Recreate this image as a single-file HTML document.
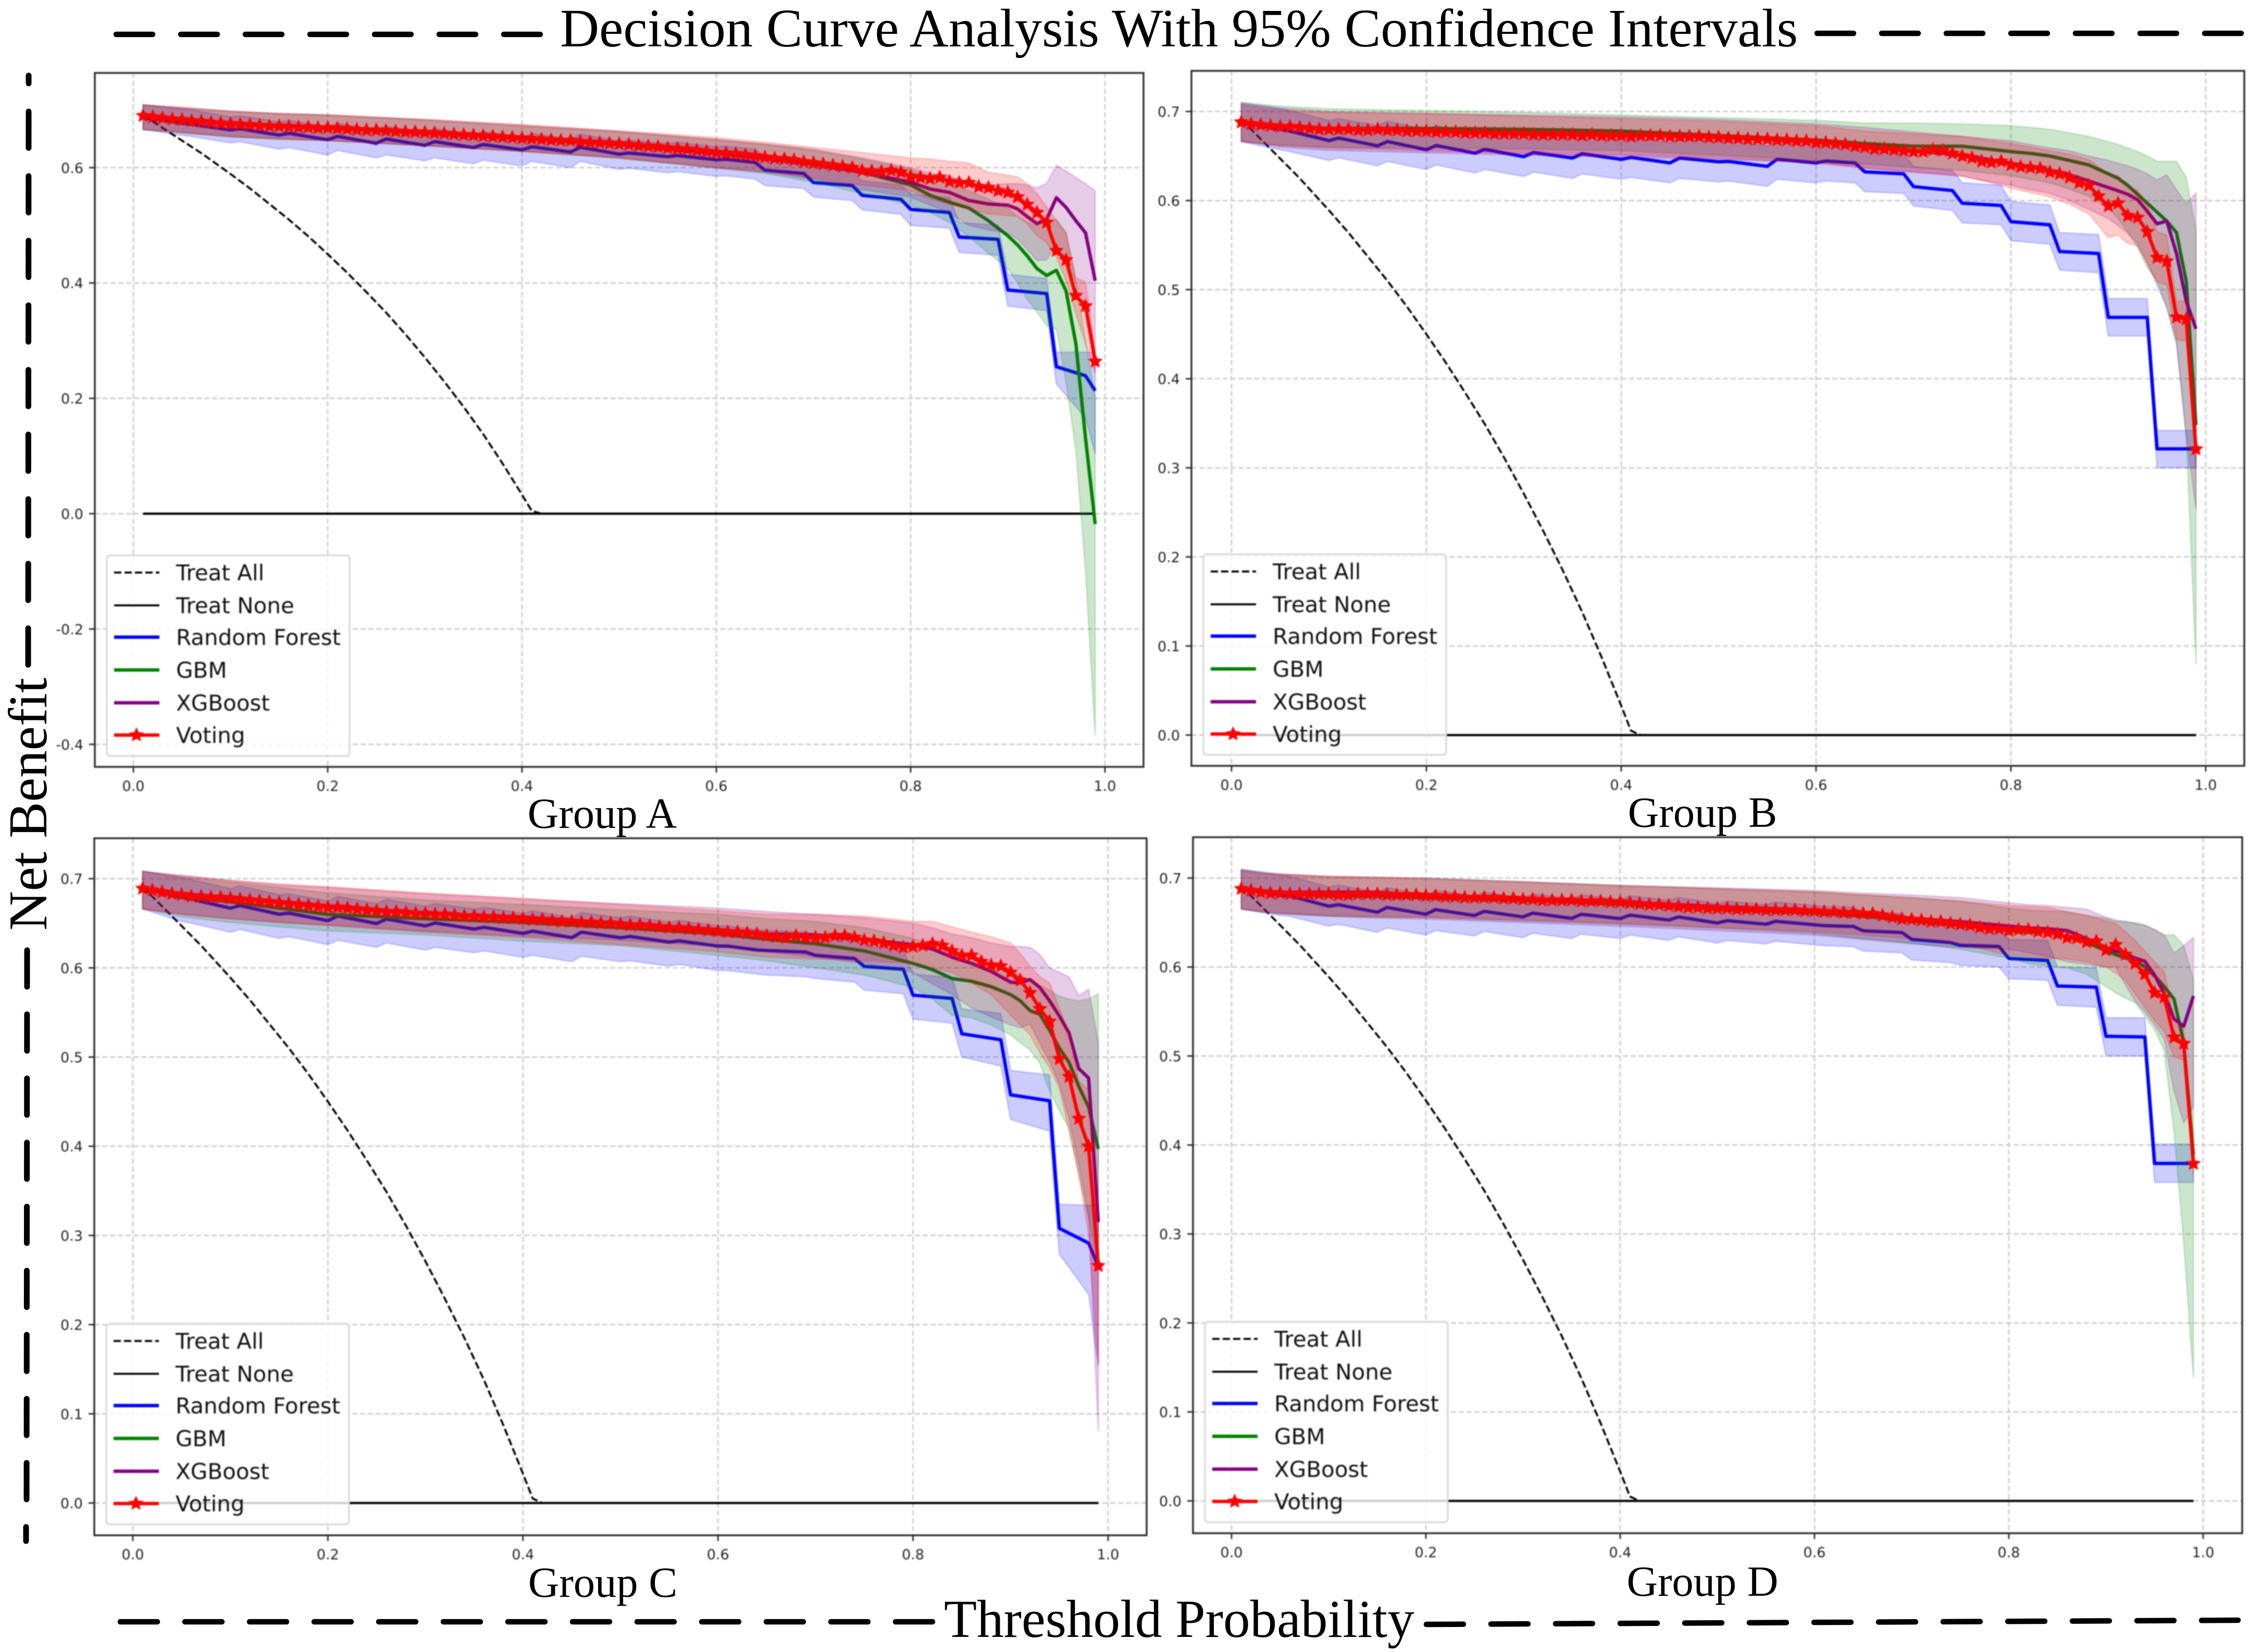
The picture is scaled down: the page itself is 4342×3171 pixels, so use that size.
<!DOCTYPE html>
<html lang="en">
<head>
<meta charset="utf-8">
<title>Decision Curve Analysis With 95% Confidence Intervals</title>
<style>
html,body{margin:0;padding:0;background:#fff;}
svg{display:block;}
.serif{font-family:"Liberation Serif","DejaVu Serif",serif;fill:#000;}
#panels{filter:blur(1px);}
</style>
</head>
<body>
<svg id="chart" xmlns="http://www.w3.org/2000/svg" width="4342" height="3171" viewBox="0 0 4342 3171">
<rect x="0" y="0" width="4342" height="3171" fill="#fff"/>
<g id="panels"></g>
<text class="serif" x="1075" y="89" font-size="104.1">Decision Curve Analysis With 95% Confidence Intervals</text>
<line x1="223" y1="66" x2="1037" y2="66" stroke="#000" stroke-width="10.5" stroke-linecap="round" stroke-dasharray="70 54"/>
<line x1="3488" y1="64" x2="4302" y2="64" stroke="#000" stroke-width="10.5" stroke-linecap="round" stroke-dasharray="70 54"/>
<text class="serif" transform="translate(89,1786) rotate(-90)" font-size="104.6">Net Benefit</text>
<line x1="55" y1="145" x2="55" y2="160" stroke="#000" stroke-width="11" stroke-linecap="round"/>
<line x1="55" y1="214" x2="54" y2="1276" stroke="#000" stroke-width="11" stroke-linecap="round" stroke-dasharray="70 54"/>
<line x1="52" y1="1824" x2="51" y2="2878" stroke="#000" stroke-width="11" stroke-linecap="round" stroke-dasharray="70 53"/>
<line x1="50" y1="2931" x2="50" y2="2958" stroke="#000" stroke-width="11" stroke-linecap="round"/>
<text class="serif" x="1812" y="3142" font-size="103.2">Threshold Probability</text>
<line x1="231" y1="3113" x2="1790" y2="3113" stroke="#000" stroke-width="10.5" stroke-linecap="round" stroke-dasharray="71 53"/>
<line x1="2738" y1="3118" x2="4296" y2="3110" stroke="#000" stroke-width="10.5" stroke-linecap="round" stroke-dasharray="71 53"/>
<text class="serif" x="1156" y="1589" font-size="82.5" text-anchor="middle">Group A</text>
<text class="serif" x="3268" y="1587" font-size="82.5" text-anchor="middle">Group B</text>
<text class="serif" x="1157" y="3065" font-size="82.5" text-anchor="middle">Group C</text>
<text class="serif" x="3268" y="3063" font-size="82.5" text-anchor="middle">Group D</text>
</svg>
<script>
// ---- shared axes data ----
const xTickValues = [0, 0.2, 0.4, 0.6, 0.8, 1.0];
const xTickLabels = ['0.0', '0.2', '0.4', '0.6', '0.8', '1.0'];
const yTickValuesA = [-0.4, -0.2, 0, 0.2, 0.4, 0.6];
const yTickLabelsA = ['-0.4', '-0.2', '0.0', '0.2', '0.4', '0.6'];
const yTickValuesOther = [0, 0.1, 0.2, 0.3, 0.4, 0.5, 0.6, 0.7];
const yTickLabelsOther = ['0.0', '0.1', '0.2', '0.3', '0.4', '0.5', '0.6', '0.7'];
const legendLabels = ['Treat All', 'Treat None', 'Random Forest', 'GBM', 'XGBoost', 'Voting'];

// ---- reference strategies ----
const treatAllT = [0.01,0.02,0.03,0.04,0.05,0.06,0.07,0.08,0.09,0.10,0.12,0.14,0.16,0.18,0.20,0.22,0.24,0.26,0.28,0.30,0.32,0.34,0.36,0.38,0.40,0.41,0.42,0.99];
const treatAll = [0.690,0.680,0.669,0.658,0.647,0.636,0.625,0.613,0.601,0.589,0.564,0.537,0.510,0.481,0.450,0.418,0.384,0.349,0.311,0.271,0.229,0.185,0.138,0.087,0.033,0.005,0,0];
const treatNoneT = [0.01, 0.99];
const treatNone = [0, 0];

// ---- threshold grids ----
const rfT = [0.01,0.05,0.06,0.10,0.11,0.15,0.16,0.20,0.21,0.25,0.26,0.30,0.31,0.35,0.36,0.40,0.41,0.45,0.46,0.50,0.51,0.55,0.56,0.60,0.61,0.64,0.65,0.69,0.70,0.74,0.75,0.79,0.80,0.84,0.85,0.89,0.90,0.94,0.95,0.98,0.99];
const modelT = [0.01,0.03,0.05,0.10,0.15,0.20,0.30,0.40,0.50,0.60,0.65,0.70,0.75,0.80,0.82,0.84,0.86,0.88,0.90,0.91,0.92,0.93,0.94,0.95,0.96,0.97,0.98,0.99];
const voteT = [0.01,0.02,0.03,0.04,0.05,0.06,0.07,0.08,0.09,0.10,0.11,0.12,0.13,0.14,0.15,0.16,0.17,0.18,0.19,0.20,0.21,0.22,0.23,0.24,0.25,0.26,0.27,0.28,0.29,0.30,0.31,0.32,0.33,0.34,0.35,0.36,0.37,0.38,0.39,0.40,0.41,0.42,0.43,0.44,0.45,0.46,0.47,0.48,0.49,0.50,0.51,0.52,0.53,0.54,0.55,0.56,0.57,0.58,0.59,0.60,0.61,0.62,0.63,0.64,0.65,0.66,0.67,0.68,0.69,0.70,0.71,0.72,0.73,0.74,0.75,0.76,0.77,0.78,0.79,0.80,0.81,0.82,0.83,0.84,0.85,0.86,0.87,0.88,0.89,0.90,0.91,0.92,0.93,0.94,0.95,0.96,0.97,0.98,0.99];

// ---- Group A ----
const rfA = [0.689,0.677,0.675,0.6655,0.6674,0.6564,0.6595,0.6483,0.6543,0.6423,0.6498,0.6387,0.6453,0.6348,0.6402,0.6308,0.6362,0.6272,0.6354,0.6233,0.6255,0.6191,0.621,0.6136,0.6145,0.6091,0.5956,0.590,0.5742,0.569,0.552,0.5452,0.5276,0.5222,0.4797,0.4757,0.3878,0.3817,0.2548,0.2392,0.2132];
const rfLoA = [0.666,0.656,0.654,0.643,0.645,0.632,0.635,0.622,0.630,0.617,0.622,0.612,0.617,0.607,0.613,0.603,0.611,0.600,0.611,0.597,0.599,0.591,0.593,0.585,0.586,0.580,0.569,0.564,0.549,0.543,0.527,0.519,0.500,0.495,0.453,0.448,0.360,0.352,0.225,0.166,0.104];
const rfHiA = [0.709,0.702,0.700,0.688,0.690,0.679,0.682,0.671,0.677,0.665,0.672,0.661,0.668,0.657,0.663,0.653,0.659,0.650,0.658,0.646,0.648,0.642,0.644,0.636,0.637,0.632,0.620,0.614,0.600,0.594,0.577,0.570,0.554,0.548,0.505,0.500,0.415,0.408,0.280,0.280,0.280];
const gbmA = [0.690,0.685,0.682,0.675,0.671,0.668,0.660,0.650,0.640,0.625,0.616,0.606,0.592,0.570,0.552,0.540,0.530,0.508,0.482,0.466,0.447,0.425,0.413,0.422,0.386,0.295,0.131,-0.018];
const gbmLoA = [0.666,0.663,0.660,0.653,0.649,0.647,0.638,0.628,0.616,0.599,0.590,0.575,0.555,0.535,0.522,0.505,0.480,0.452,0.425,0.400,0.372,0.350,0.326,0.320,0.228,0.110,-0.10,-0.385];
const gbmHiA = [0.709,0.705,0.702,0.697,0.693,0.691,0.682,0.672,0.662,0.648,0.640,0.630,0.615,0.597,0.585,0.570,0.560,0.545,0.530,0.515,0.505,0.500,0.505,0.5105,0.487,0.404,0.300,0.200];
const xgbA = [0.690,0.686,0.683,0.676,0.672,0.669,0.660,0.651,0.641,0.625,0.617,0.607,0.592,0.575,0.563,0.557,0.543,0.537,0.535,0.5285,0.515,0.503,0.5105,0.548,0.531,0.508,0.487,0.404];
const xgbLoA = [0.666,0.664,0.661,0.654,0.650,0.647,0.638,0.629,0.617,0.600,0.592,0.580,0.562,0.549,0.535,0.522,0.500,0.492,0.487,0.476,0.458,0.439,0.440,0.465,0.437,0.400,0.360,0.250];
const xgbHiA = [0.709,0.706,0.704,0.698,0.694,0.691,0.683,0.673,0.663,0.649,0.641,0.632,0.617,0.600,0.590,0.585,0.575,0.570,0.572,0.572,0.570,0.565,0.573,0.604,0.594,0.583,0.572,0.560];
const voteA = [0.690,0.688,0.686,0.684,0.683,0.681,0.680,0.678,0.677,0.676,0.675,0.674,0.673,0.672,0.672,0.671,0.670,0.670,0.669,0.669,0.668,0.667,0.666,0.665,0.665,0.664,0.663,0.662,0.662,0.661,0.660,0.659,0.658,0.657,0.656,0.655,0.654,0.653,0.652,0.651,0.650,0.649,0.648,0.647,0.647,0.645,0.644,0.643,0.642,0.641,0.640,0.638,0.637,0.636,0.634,0.633,0.632,0.630,0.628,0.626,0.625,0.624,0.622,0.620,0.618,0.616,0.615,0.613,0.610,0.608,0.606,0.604,0.602,0.600,0.595,0.594,0.593,0.595,0.592,0.585,0.583,0.581,0.583,0.576,0.574,0.574,0.567,0.565,0.560,0.557,0.549,0.536,0.522,0.505,0.456,0.440,0.378,0.360,0.264];
const voteLoA = [0.666,0.664,0.661,0.654,0.650,0.647,0.638,0.628,0.617,0.600,0.594,0.582,0.570,0.560,0.546,0.537,0.528,0.520,0.517,0.516,0.503,0.482,0.470,0.445,0.404,0.347,0.295,0.243];
const voteHiA = [0.709,0.707,0.705,0.698,0.694,0.692,0.684,0.675,0.664,0.652,0.644,0.635,0.626,0.617,0.615,0.611,0.608,0.592,0.587,0.584,0.572,0.555,0.532,0.508,0.487,0.409,0.402,0.282];

// ---- Group B ----
const rfB = [0.688,0.680,0.678,0.6673,0.6702,0.6614,0.6663,0.6571,0.6618,0.6532,0.6575,0.6493,0.654,0.6478,0.6526,0.6462,0.6485,0.6423,0.6478,0.6435,0.644,0.6384,0.6464,0.6423,0.6444,0.6423,0.6322,0.630,0.6157,0.6112,0.597,0.5945,0.5763,0.5728,0.5428,0.5406,0.4689,0.4689,0.3213,0.3213,0.3213];
const rfLoB = [0.666,0.657,0.655,0.645,0.648,0.639,0.644,0.635,0.640,0.631,0.635,0.627,0.632,0.625,0.630,0.624,0.626,0.620,0.625,0.621,0.622,0.616,0.624,0.620,0.622,0.620,0.610,0.608,0.594,0.589,0.575,0.573,0.555,0.551,0.522,0.519,0.448,0.448,0.300,0.300,0.300];
const rfHiB = [0.710,0.703,0.701,0.690,0.692,0.684,0.689,0.680,0.684,0.676,0.680,0.672,0.677,0.670,0.675,0.669,0.671,0.665,0.670,0.666,0.667,0.661,0.669,0.665,0.667,0.665,0.655,0.653,0.638,0.634,0.620,0.617,0.599,0.595,0.564,0.562,0.490,0.490,0.342,0.342,0.342];
const gbmB = [0.688,0.686,0.684,0.681,0.681,0.681,0.680,0.678,0.673,0.668,0.664,0.661,0.661,0.655,0.653,0.650,0.645,0.640,0.630,0.625,0.617,0.607,0.597,0.587,0.577,0.564,0.509,0.348];
const gbmLoB = [0.666,0.664,0.662,0.660,0.659,0.659,0.658,0.656,0.651,0.645,0.641,0.637,0.634,0.628,0.624,0.620,0.613,0.605,0.592,0.580,0.565,0.547,0.525,0.510,0.480,0.440,0.335,0.080];
const gbmHiB = [0.710,0.708,0.706,0.703,0.702,0.701,0.699,0.696,0.693,0.690,0.687,0.687,0.686,0.684,0.682,0.680,0.676,0.672,0.666,0.663,0.659,0.655,0.650,0.644,0.644,0.644,0.626,0.567];
const xgbB = [0.688,0.686,0.684,0.680,0.679,0.678,0.676,0.674,0.671,0.666,0.661,0.656,0.651,0.642,0.638,0.634,0.629,0.622,0.6146,0.611,0.607,0.601,0.588,0.574,0.577,0.5405,0.487,0.456];
const xgbLoB = [0.667,0.664,0.660,0.6565,0.655,0.6537,0.651,0.6486,0.646,0.643,0.637,0.632,0.627,0.617,0.612,0.608,0.600,0.590,0.580,0.572,0.563,0.552,0.530,0.505,0.480,0.440,0.335,0.254];
const xgbHiB = [0.708,0.706,0.704,0.700,0.699,0.698,0.696,0.694,0.691,0.686,0.682,0.677,0.672,0.667,0.663,0.659,0.656,0.650,0.645,0.642,0.639,0.635,0.630,0.623,0.629,0.612,0.5965,0.6085];
const voteB = [0.688,0.686,0.685,0.684,0.683,0.683,0.682,0.681,0.680,0.680,0.680,0.680,0.679,0.679,0.680,0.679,0.679,0.678,0.678,0.678,0.677,0.677,0.677,0.676,0.676,0.676,0.675,0.675,0.675,0.675,0.674,0.674,0.674,0.674,0.674,0.673,0.674,0.673,0.673,0.673,0.672,0.673,0.673,0.673,0.672,0.672,0.672,0.672,0.671,0.671,0.670,0.670,0.669,0.669,0.669,0.668,0.668,0.667,0.667,0.665,0.665,0.664,0.663,0.661,0.660,0.658,0.658,0.657,0.656,0.655,0.655,0.657,0.656,0.653,0.650,0.648,0.644,0.643,0.644,0.640,0.638,0.637,0.636,0.632,0.630,0.626,0.620,0.617,0.605,0.594,0.597,0.583,0.581,0.565,0.536,0.532,0.469,0.467,0.321];
const voteLoB = [0.666,0.664,0.662,0.659,0.658,0.656,0.653,0.651,0.648,0.642,0.636,0.632,0.628,0.614,0.609,0.604,0.596,0.585,0.5585,0.561,0.552,0.5495,0.530,0.509,0.505,0.444,0.442,0.300];
const voteHiB = [0.708,0.704,0.701,0.699,0.698,0.6975,0.695,0.692,0.689,0.684,0.678,0.675,0.672,0.664,0.660,0.656,0.652,0.646,0.630,0.628,0.615,0.612,0.595,0.565,0.561,0.487,0.487,0.345];

// ---- Group C ----
const rfC = [0.689,0.679,0.677,0.6669,0.6698,0.6601,0.6614,0.6529,0.6581,0.6497,0.6548,0.6470,0.6503,0.6435,0.6455,0.6386,0.6412,0.6338,0.6400,0.6338,0.6352,0.6289,0.6303,0.6244,0.6244,0.6200,0.6195,0.6177,0.6141,0.6105,0.6016,0.5985,0.5694,0.5658,0.5261,0.5194,0.4577,0.4510,0.3080,0.2914,0.2656];
const rfLoC = [0.666,0.652,0.650,0.640,0.643,0.633,0.635,0.626,0.631,0.623,0.628,0.620,0.623,0.617,0.619,0.612,0.614,0.607,0.613,0.607,0.608,0.602,0.604,0.597,0.597,0.593,0.592,0.590,0.588,0.584,0.575,0.571,0.5426,0.538,0.500,0.490,0.430,0.417,0.279,0.234,0.154];
const rfHiC = [0.709,0.701,0.699,0.689,0.692,0.682,0.683,0.675,0.680,0.672,0.677,0.669,0.672,0.666,0.668,0.661,0.664,0.656,0.662,0.656,0.658,0.651,0.653,0.647,0.647,0.643,0.642,0.640,0.637,0.633,0.625,0.621,0.593,0.589,0.554,0.549,0.485,0.480,0.335,0.334,0.334];
const gbmC = [0.689,0.684,0.680,0.674,0.667,0.660,0.655,0.651,0.645,0.638,0.632,0.627,0.619,0.605,0.598,0.588,0.585,0.579,0.570,0.563,0.552,0.548,0.530,0.510,0.494,0.467,0.444,0.397];
const gbmLoC = [0.666,0.662,0.657,0.651,0.646,0.6415,0.637,0.630,0.625,0.614,0.608,0.600,0.592,0.578,0.565,0.547,0.544,0.536,0.525,0.516,0.508,0.493,0.462,0.440,0.420,0.368,0.319,0.270];
const gbmHiC = [0.708,0.705,0.702,0.696,0.690,0.684,0.676,0.671,0.665,0.660,0.655,0.652,0.645,0.633,0.625,0.615,0.610,0.605,0.598,0.592,0.585,0.580,0.575,0.568,0.565,0.563,0.565,0.571];
const xgbC = [0.689,0.686,0.683,0.679,0.674,0.668,0.661,0.657,0.650,0.643,0.638,0.637,0.632,0.626,0.621,0.612,0.605,0.596,0.584,0.583,0.587,0.578,0.563,0.546,0.527,0.487,0.4765,0.315];
const xgbLoC = [0.666,0.663,0.660,0.655,0.651,0.648,0.641,0.6355,0.631,0.624,0.618,0.612,0.605,0.595,0.582,0.570,0.555,0.545,0.536,0.533,0.537,0.515,0.495,0.470,0.431,0.380,0.322,0.080];
const xgbHiC = [0.708,0.706,0.704,0.698,0.693,0.690,0.683,0.677,0.672,0.667,0.663,0.660,0.656,0.650,0.645,0.638,0.634,0.628,0.624,0.624,0.623,0.615,0.600,0.595,0.590,0.569,0.576,0.516];
const voteC = [0.689,0.687,0.685,0.683,0.682,0.680,0.680,0.679,0.679,0.678,0.677,0.676,0.675,0.674,0.673,0.672,0.671,0.670,0.669,0.668,0.668,0.667,0.666,0.665,0.664,0.663,0.663,0.662,0.661,0.661,0.660,0.660,0.659,0.658,0.658,0.657,0.657,0.656,0.656,0.655,0.654,0.654,0.653,0.652,0.652,0.651,0.651,0.650,0.650,0.649,0.648,0.648,0.647,0.646,0.645,0.645,0.644,0.643,0.642,0.641,0.640,0.640,0.639,0.638,0.636,0.635,0.634,0.636,0.634,0.634,0.634,0.636,0.636,0.634,0.631,0.630,0.628,0.625,0.623,0.624,0.625,0.627,0.625,0.619,0.614,0.614,0.607,0.603,0.602,0.595,0.586,0.572,0.554,0.540,0.498,0.478,0.431,0.400,0.266];
const voteLoC = [0.666,0.663,0.660,0.655,0.651,0.6475,0.640,0.634,0.626,0.618,0.612,0.610,0.608,0.6055,0.600,0.595,0.583,0.570,0.547,0.536,0.525,0.505,0.488,0.465,0.4175,0.368,0.301,0.155];
const voteHiC = [0.708,0.705,0.703,0.698,0.694,0.691,0.684,0.678,0.671,0.664,0.660,0.660,0.658,0.652,0.652,0.646,0.640,0.635,0.628,0.616,0.602,0.590,0.583,0.555,0.528,0.473,0.463,0.320];

// ---- Group D ----
const rfD = [0.688,0.681,0.680,0.6684,0.6700,0.6616,0.6670,0.6593,0.6645,0.6579,0.6626,0.6563,0.6606,0.6547,0.6593,0.6544,0.6583,0.6528,0.6563,0.6495,0.6521,0.6481,0.6514,0.6475,0.6465,0.6456,0.6407,0.6388,0.6311,0.6275,0.6244,0.6231,0.6096,0.6074,0.5787,0.5774,0.5222,0.5214,0.3793,0.3793,0.3793];
const rfLoD = [0.665,0.658,0.657,0.646,0.648,0.639,0.644,0.636,0.641,0.635,0.640,0.633,0.638,0.632,0.637,0.632,0.636,0.630,0.634,0.627,0.630,0.626,0.629,0.625,0.624,0.623,0.618,0.616,0.608,0.605,0.602,0.600,0.587,0.585,0.557,0.555,0.500,0.500,0.358,0.358,0.358];
const rfHiD = [0.710,0.703,0.702,0.690,0.692,0.684,0.689,0.681,0.686,0.680,0.684,0.678,0.682,0.677,0.681,0.676,0.680,0.675,0.678,0.671,0.674,0.670,0.673,0.669,0.668,0.667,0.662,0.660,0.653,0.649,0.646,0.645,0.631,0.630,0.600,0.599,0.543,0.543,0.401,0.401,0.401];
const gbmD = [0.688,0.685,0.683,0.680,0.680,0.678,0.675,0.671,0.665,0.661,0.657,0.652,0.647,0.641,0.639,0.640,0.634,0.628,0.618,0.614,0.610,0.608,0.600,0.590,0.578,0.564,0.515,0.389];
const gbmLoD = [0.665,0.662,0.660,0.657,0.656,0.656,0.652,0.6485,0.644,0.638,0.632,0.627,0.620,0.610,0.604,0.601,0.599,0.592,0.578,0.571,0.565,0.560,0.545,0.530,0.506,0.415,0.291,0.138];
const gbmHiD = [0.709,0.706,0.704,0.701,0.700,0.6996,0.696,0.6915,0.688,0.6846,0.681,0.678,0.674,0.666,0.664,0.663,0.662,0.658,0.655,0.6513,0.651,0.650,0.647,0.642,0.6356,0.6364,0.624,0.586];
const xgbD = [0.688,0.686,0.684,0.684,0.684,0.680,0.677,0.673,0.668,0.664,0.660,0.655,0.651,0.646,0.644,0.643,0.641,0.632,0.622,0.618,0.615,0.610,0.6065,0.591,0.570,0.5417,0.5335,0.5675];
const xgbLoD = [0.665,0.662,0.660,0.657,0.655,0.654,0.650,0.646,0.641,0.636,0.631,0.626,0.622,0.620,0.616,0.612,0.606,0.603,0.600,0.600,0.580,0.5616,0.550,0.535,0.519,0.461,0.425,0.443];
const xgbHiD = [0.709,0.707,0.705,0.702,0.701,0.700,0.696,0.692,0.689,0.686,0.683,0.681,0.678,0.672,0.670,0.669,0.667,0.665,0.656,0.653,0.651,0.649,0.647,0.642,0.636,0.6155,0.624,0.633];
const voteD = [0.688,0.686,0.684,0.683,0.683,0.682,0.682,0.682,0.682,0.682,0.681,0.681,0.682,0.682,0.682,0.681,0.681,0.681,0.681,0.680,0.680,0.679,0.679,0.678,0.678,0.678,0.678,0.677,0.677,0.676,0.676,0.675,0.675,0.675,0.675,0.674,0.674,0.674,0.673,0.673,0.672,0.671,0.670,0.670,0.669,0.668,0.667,0.667,0.666,0.666,0.666,0.665,0.665,0.665,0.664,0.664,0.664,0.664,0.663,0.663,0.662,0.662,0.661,0.661,0.660,0.660,0.658,0.656,0.654,0.6535,0.6526,0.651,0.651,0.649,0.648,0.647,0.6445,0.643,0.643,0.641,0.642,0.642,0.640,0.639,0.637,0.633,0.6325,0.628,0.629,0.619,0.625,0.614,0.604,0.592,0.571,0.566,0.521,0.514,0.379];
const voteLoD = [0.666,0.663,0.661,0.658,0.657,0.656,0.653,0.649,0.644,0.640,0.636,0.632,0.626,0.613,0.612,0.610,0.609,0.606,0.600,0.593,0.585,0.570,0.555,0.540,0.528,0.499,0.495,0.367];
const voteHiD = [0.708,0.705,0.704,0.702,0.701,0.699,0.695,0.691,0.688,0.684,0.681,0.678,0.674,0.669,0.668,0.667,0.662,0.658,0.652,0.649,0.640,0.630,0.618,0.606,0.595,0.544,0.530,0.392];

// ---- panel wiring ----
const panelSpecs = [
  {id:'a', left:182, right:2195, top:140, bottom:1472, x0:256, x1:2121, y0:986, k:1107, yv:yTickValuesA, yl:yTickLabelsA,
   rf:rfA, rfLo:rfLoA, rfHi:rfHiA, gbm:gbmA, gbmLo:gbmLoA, gbmHi:gbmHiA, xgb:xgbA, xgbLo:xgbLoA, xgbHi:xgbHiA, vote:voteA, voteLo:voteLoA, voteHi:voteHiA},
  {id:'b', left:2287, right:4308, top:136, bottom:1470, x0:2364, x1:4234, y0:1411, k:1710, yv:yTickValuesOther, yl:yTickLabelsOther,
   rf:rfB, rfLo:rfLoB, rfHi:rfHiB, gbm:gbmB, gbmLo:gbmLoB, gbmHi:gbmHiB, xgb:xgbB, xgbLo:xgbLoB, xgbHi:xgbHiB, vote:voteB, voteLo:voteLoB, voteHi:voteHiB},
  {id:'c', left:181, right:2201, top:1609, bottom:2947, x0:255, x1:2127, y0:2885, k:1712, yv:yTickValuesOther, yl:yTickLabelsOther,
   rf:rfC, rfLo:rfLoC, rfHi:rfHiC, gbm:gbmC, gbmLo:gbmLoC, gbmHi:gbmHiC, xgb:xgbC, xgbLo:xgbLoC, xgbHi:xgbHiC, vote:voteC, voteLo:voteLoC, voteHi:voteHiC},
  {id:'d', left:2290, right:4304, top:1607, bottom:2943, x0:2364, x1:4229, y0:2881, k:1708, yv:yTickValuesOther, yl:yTickLabelsOther,
   rf:rfD, rfLo:rfLoD, rfHi:rfHiD, gbm:gbmD, gbmLo:gbmLoD, gbmHi:gbmHiD, xgb:xgbD, xgbLo:xgbLoD, xgbHi:xgbHiD, vote:voteD, voteLo:voteLoD, voteHi:voteHiD}
];

const NS = 'http://www.w3.org/2000/svg';
const root = document.getElementById('panels');

function xScale(p, t) { return p.x0 + (p.x1 - p.x0) * t; }
function yScale(p, v) { return p.y0 - p.k * v; }

function linePoints(p, ts, vs) {
  return ts.map(function (t, i) { return xScale(p, t).toFixed(1) + ',' + yScale(p, vs[i]).toFixed(1); }).join(' ');
}
function bandPoints(p, ts, lo, hi) {
  const up = ts.map(function (t, i) { return xScale(p, t).toFixed(1) + ',' + yScale(p, hi[i]).toFixed(1); });
  const dn = ts.map(function (t, i) { return xScale(p, t).toFixed(1) + ',' + yScale(p, lo[i]).toFixed(1); }).reverse();
  return up.concat(dn).join(' ');
}
function starPoints(cx, cy, r) {
  const pts = [];
  for (let i = 0; i < 10; i++) {
    const rad = i % 2 === 0 ? r : r * 0.47;
    const a = -Math.PI / 2 + i * Math.PI / 5;
    pts.push((cx + rad * Math.cos(a)).toFixed(1) + ',' + (cy + rad * Math.sin(a)).toFixed(1));
  }
  return pts.join(' ');
}
function styleLine(el, color, width) {
  el.setAttribute('fill', 'none');
  el.setAttribute('stroke', color);
  el.setAttribute('stroke-width', width);
  el.setAttribute('stroke-linejoin', 'round');
}
function styleBand(el, color) {
  el.setAttribute('fill', color);
  el.setAttribute('fill-opacity', '0.2');
  el.setAttribute('stroke', color);
  el.setAttribute('stroke-opacity', '0.2');
  el.setAttribute('stroke-width', '2.5');
}

function drawPanel(p) {
  const g = document.createElementNS(NS, 'g');
  
  
  root.appendChild(g);

  // gridlines
  xTickValues.forEach(function (t) {
    const gl = document.createElementNS(NS, 'line');
    
    
    gl.setAttribute('x1', xScale(p, t));
    gl.setAttribute('x2', xScale(p, t));
    gl.setAttribute('y1', p.top);
    gl.setAttribute('y2', p.bottom);
    gl.setAttribute('stroke', '#c8c8c8');
    gl.setAttribute('stroke-width', '2.5');
    gl.setAttribute('stroke-dasharray', '10 5');
    g.appendChild(gl);
  });
  p.yv.forEach(function (v) {
    const gl = document.createElementNS(NS, 'line');
    
    
    gl.setAttribute('x1', p.left);
    gl.setAttribute('x2', p.right);
    gl.setAttribute('y1', yScale(p, v));
    gl.setAttribute('y2', yScale(p, v));
    gl.setAttribute('stroke', '#c8c8c8');
    gl.setAttribute('stroke-width', '2.5');
    gl.setAttribute('stroke-dasharray', '10 5');
    g.appendChild(gl);
  });

  // reference lines
  const ta = document.createElementNS(NS, 'polyline');
  
  
  ta.setAttribute('points', linePoints(p, treatAllT, treatAll));
  styleLine(ta, '#000', '3.8');
  ta.setAttribute('stroke-dasharray', '14 6');
  g.appendChild(ta);

  const tn = document.createElementNS(NS, 'polyline');
  
  
  tn.setAttribute('points', linePoints(p, treatNoneT, treatNone));
  styleLine(tn, '#000', '4.2');
  g.appendChild(tn);

  // random forest
  const rfBand = document.createElementNS(NS, 'polygon');
  
  
  rfBand.setAttribute('points', bandPoints(p, rfT, p.rfLo, p.rfHi));
  styleBand(rfBand, '#0000ff');
  g.appendChild(rfBand);
  const rfLine = document.createElementNS(NS, 'polyline');
  
  
  rfLine.setAttribute('points', linePoints(p, rfT, p.rf));
  styleLine(rfLine, '#0000ff', '6.4');
  g.appendChild(rfLine);

  // gbm
  const gbmBand = document.createElementNS(NS, 'polygon');
  
  
  gbmBand.setAttribute('points', bandPoints(p, modelT, p.gbmLo, p.gbmHi));
  styleBand(gbmBand, '#008000');
  g.appendChild(gbmBand);
  const gbmLine = document.createElementNS(NS, 'polyline');
  
  
  gbmLine.setAttribute('points', linePoints(p, modelT, p.gbm));
  styleLine(gbmLine, '#008000', '6.4');
  g.appendChild(gbmLine);

  // xgboost
  const xgbBand = document.createElementNS(NS, 'polygon');
  
  
  xgbBand.setAttribute('points', bandPoints(p, modelT, p.xgbLo, p.xgbHi));
  styleBand(xgbBand, '#800080');
  g.appendChild(xgbBand);
  const xgbLine = document.createElementNS(NS, 'polyline');
  
  
  xgbLine.setAttribute('points', linePoints(p, modelT, p.xgb));
  styleLine(xgbLine, '#800080', '6.4');
  g.appendChild(xgbLine);

  // voting
  const voteBand = document.createElementNS(NS, 'polygon');
  
  
  voteBand.setAttribute('points', bandPoints(p, modelT, p.voteLo, p.voteHi));
  styleBand(voteBand, '#ff0000');
  g.appendChild(voteBand);
  const voteLine = document.createElementNS(NS, 'polyline');
  
  
  voteLine.setAttribute('points', linePoints(p, voteT, p.vote));
  styleLine(voteLine, '#ff0000', '6.6');
  g.appendChild(voteLine);
  voteT.forEach(function (t, i) {
    const star = document.createElementNS(NS, 'polygon');
    
    
    star.setAttribute('points', starPoints(xScale(p, t), yScale(p, p.vote[i]), 15));
    star.setAttribute('fill', '#ff0000');
    g.appendChild(star);
  });

  // frame
  const frame = document.createElementNS(NS, 'rect');
  
  
  frame.setAttribute('x', p.left);
  frame.setAttribute('y', p.top);
  frame.setAttribute('width', p.right - p.left);
  frame.setAttribute('height', p.bottom - p.top);
  frame.setAttribute('fill', 'none');
  frame.setAttribute('stroke', '#2a2a2a');
  frame.setAttribute('stroke-width', '3.4');
  g.appendChild(frame);

  // x ticks
  xTickValues.forEach(function (t, i) {
    const tick = document.createElementNS(NS, 'line');
    
    
    tick.setAttribute('x1', xScale(p, t));
    tick.setAttribute('x2', xScale(p, t));
    tick.setAttribute('y1', p.bottom);
    tick.setAttribute('y2', p.bottom + 11);
    tick.setAttribute('stroke', '#2a2a2a');
    tick.setAttribute('stroke-width', '2.8');
    g.appendChild(tick);
    const label = document.createElementNS(NS, 'text');
    
    
    label.setAttribute('x', xScale(p, t));
    label.setAttribute('y', p.bottom + 46);
    label.setAttribute('text-anchor', 'middle');
    label.setAttribute('font-family', '"DejaVu Sans", sans-serif');
    label.setAttribute('font-size', '27');
    label.setAttribute('fill', '#222');
    label.textContent = xTickLabels[i];
    g.appendChild(label);
  });

  // y ticks
  p.yv.forEach(function (v, i) {
    const tick = document.createElementNS(NS, 'line');
    
    
    tick.setAttribute('x1', p.left - 11);
    tick.setAttribute('x2', p.left);
    tick.setAttribute('y1', yScale(p, v));
    tick.setAttribute('y2', yScale(p, v));
    tick.setAttribute('stroke', '#2a2a2a');
    tick.setAttribute('stroke-width', '2.8');
    g.appendChild(tick);
    const label = document.createElementNS(NS, 'text');
    
    
    label.setAttribute('x', p.left - 22);
    label.setAttribute('y', yScale(p, v) + 10);
    label.setAttribute('text-anchor', 'end');
    label.setAttribute('font-family', '"DejaVu Sans", sans-serif');
    label.setAttribute('font-size', '27');
    label.setAttribute('fill', '#222');
    label.textContent = p.yl[i];
    g.appendChild(label);
  });

  // legend
  const lx = p.left + 23;
  const ly = p.bottom - 21 - 385;
  const lg = document.createElementNS(NS, 'g');
  
  
  g.appendChild(lg);
  const box = document.createElementNS(NS, 'rect');
  
  
  box.setAttribute('x', lx);
  box.setAttribute('y', ly);
  box.setAttribute('width', 466);
  box.setAttribute('height', 385);
  box.setAttribute('rx', 7);
  box.setAttribute('fill', '#fff');
  box.setAttribute('fill-opacity', '0.8');
  box.setAttribute('stroke', '#d6d6d6');
  box.setAttribute('stroke-width', '3');
  lg.appendChild(box);
  const legendColors = ['#000', '#000', '#0000ff', '#008000', '#800080', '#ff0000'];
  const legendRowY = [33, 96, 157, 220, 283, 345];
  legendLabels.forEach(function (name, i) {
    const hy = ly + legendRowY[i];
    const handle = document.createElementNS(NS, 'line');
    
    
    handle.setAttribute('x1', lx + 14);
    handle.setAttribute('x2', lx + 101);
    handle.setAttribute('y1', hy);
    handle.setAttribute('y2', hy);
    handle.setAttribute('stroke', legendColors[i]);
    handle.setAttribute('stroke-width', i < 2 ? '3.8' : '6.4');
    if (i === 0) { handle.setAttribute('stroke-dasharray', '14 6'); }
    lg.appendChild(handle);
    if (i === 5) {
      const mark = document.createElementNS(NS, 'polygon');
      
      
      mark.setAttribute('points', starPoints(lx + 57, hy, 15));
      mark.setAttribute('fill', '#ff0000');
      lg.appendChild(mark);
    }
    const txt = document.createElementNS(NS, 'text');
    
    
    txt.setAttribute('x', lx + 133);
    txt.setAttribute('y', hy + 15);
    txt.setAttribute('font-family', '"DejaVu Sans", sans-serif');
    txt.setAttribute('font-size', '42');
    txt.setAttribute('fill', '#111');
    txt.textContent = name;
    lg.appendChild(txt);
  });
}

panelSpecs.forEach(drawPanel);
</script>
</body>
</html>
